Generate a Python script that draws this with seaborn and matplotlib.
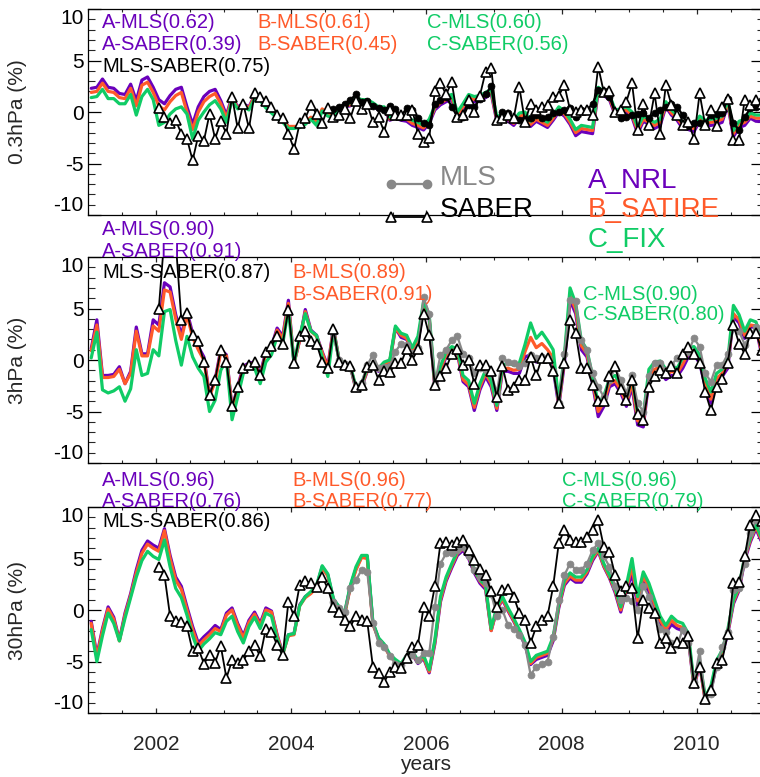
import numpy as np
import pandas as pd
import matplotlib
matplotlib.use("Agg")
import matplotlib.pyplot as plt
import seaborn as sns

sns.set_theme(style="white")
plt.rcParams["font.family"] = ["Liberation Sans", "DejaVu Sans"]

# ---------------------------------------------------------------- data
# monthly anomalies (%), Jan 2001 .. Dec 2010 (mid-month time stamps)
months = np.arange(120)
t_model = 2001 + (months + 0.5) / 12
t_saber = t_model[12:]    # SABER from Jan 2002
t_mls = t_model[43:]      # MLS from Aug 2004

# ---- 0.3 hPa
nrl_03 = [2.3, 2.4, 3.2, 2.4, 2.3, 1.8, 1.7, 2.7, 1.1, 3.1,
          3.4, 2.4, 1.2, 0.8, 1.6, 2.2, 2.4, 0.5, -1.2, 0.5,
          1.5, 2.0, 2.2, 1.1, -0.3, 1.5, 0.5, 0.8, 0.5, 1.6,
          1.3, 0.6, 0.2, -0.3, -0.8, -1.4, -1.5, -1.5, -1.1, -0.6,
          -1.1, 0.2, -0.3, -0.5, 0.1, 0.5, 0.6, 1.2, 1.1, 1.0,
          0.6, 0.2, 0.3, -0.8, -0.6, -0.8, -0.9, -1.3, -1.5, -1.75,
          -1.1, 0.2, 0.7, 1.0, 1.2, -0.45, 0.3, 1.2, 1.0, 1.1,
          1.4, 1.8, -0.9, -0.8, -0.9, -1.3, -0.6, -0.5, -1.4, -0.9,
          -1.2, -1.5, -0.8, 0.0, -0.4, -1.2, -2.3, -1.9, -2.0, -2.1,
          2.0, 1.6, 1.2, -0.3, -0.2, 0.0, -0.5, -2.1, -0.9, -1.2,
          -1.6, -1.3, 0.5, -0.3, -0.8, -1.6, -1.7, -1.9, -0.9, -1.4,
          -1.3, -1.2, -1.0, 0.7, -2.4, -1.5, -1.3, -0.6, -0.9, -0.9]
satire_03 = [1.9, 2.0, 2.8, 2.0, 1.9, 1.4, 1.3, 2.3, 0.6, 2.6,
             2.9, 1.9, 0.6, 0.2, 1.0, 1.6, 1.9, 0.0, -1.7, 0.0,
             1.0, 1.5, 1.8, 0.8, -0.6, 1.4, 0.4, 0.7, 0.4, 1.5,
             1.2, 0.5, 0.1, -0.4, -0.8, -1.4, -1.4, -1.4, -1.0, -0.5,
             -1.0, 0.3, -0.2, -0.4, 0.2, 0.6, 0.7, 1.3, 1.2, 1.1,
             0.7, 0.3, 0.4, -0.7, -0.5, -0.7, -0.7, -1.1, -1.3, -1.55,
             -0.9, 0.4, 0.9, 1.2, 1.4, -0.25, 0.5, 1.4, 1.2, 1.3,
             1.6, 2.0, -0.7, -0.6, -0.7, -1.1, -0.4, -0.3, -1.2, -0.7,
             -1.0, -1.3, -0.6, 0.2, -0.2, -1.0, -2.0, -1.6, -1.7, -1.8,
             2.2, 1.8, 1.4, -0.1, 0.0, 0.2, -0.3, -1.8, -0.7, -1.0,
             -1.3, -1.0, 0.7, -0.1, -0.6, -1.3, -1.4, -1.6, -0.7, -1.1,
             -1.0, -0.9, -0.7, 0.9, -2.1, -1.2, -1.0, -0.4, -0.6, -0.6]
fix_03 = [1.4, 1.5, 2.2, 1.3, 1.3, 0.8, 0.8, 1.7, -0.3, 1.5,
          2.2, 1.2, -1.3, -1.0, -0.2, 0.3, 0.5, -0.2, -2.6, -0.8,
          0.0, 0.7, 1.1, 0.3, -1.0, 1.2, 0.3, 0.5, 0.2, 1.3,
          1.1, 0.4, -0.1, -0.6, -1.0, -1.6, -1.6, -1.5, -1.2, -0.7,
          -1.3, 0.1, -0.4, -0.5, 0.2, 0.7, 0.9, 1.4, 1.2, 1.2,
          0.9, 0.5, 0.5, -0.5, -0.3, -0.4, -0.4, -0.8, -1.0, -1.3,
          -0.7, 0.6, 1.2, 1.5, 1.7, 0.0, 0.8, 1.7, 1.5, 1.6,
          1.9, 2.2, -0.4, -0.3, -0.4, -0.8, -0.1, 0.0, -0.9, -0.4,
          -0.7, -1.0, -0.3, 0.5, 0.1, -0.7, -1.7, -1.3, -1.4, -1.5,
          2.4, 2.0, 1.7, 0.2, 0.3, 0.5, 0.0, -1.5, -0.4, -0.7,
          -1.0, -0.7, 1.0, 0.2, -0.3, -1.0, -1.1, -1.3, -0.4, -0.8,
          -0.7, -0.6, -0.4, 1.2, -1.8, -0.9, -0.7, -0.1, -0.3, -0.3]
saber_03 = [0.4, -0.5, -1.1, -0.8, -2.1, -2.6, -4.7, -2.3,
            -2.8, -0.2, -2.6, -0.9, -2.1, 1.5, -1.6, 0.8, -1.6, 1.8,
            1.5, 1.1, 0.5, -0.3, -0.6, -2.1, -3.6, -1.1, -0.6, 0.7,
            -0.2, -1.1, 0.4, -0.5, -0.3, 0.3, -0.6, 1.1, 0.3, 0.8,
            -1.0, -0.5, -1.9, 0.2, -0.3, -0.3, -0.3, 0.2, -2.1, -2.9,
            -2.5, 2.0, 2.8, 1.7, 2.9, -0.45, -0.3, 1.2, 0.0, 1.6,
            3.9, 4.3, -0.8, -0.6, -0.3, -0.6, 2.4, -0.95, 0.8, 0.2,
            0.5, 0.7, 1.5, 1.6, 2.6, 0.2, 0.0, 0.2, 0.2, -0.3,
            4.4, 1.9, 2.0, 0.0, 0.2, 1.0, 2.8, -1.75, 0.8, -1.3,
            1.8, -2.1, 2.6, 0.7, -0.3, -1.3, -0.95, -2.6, 1.8, -1.3,
            0.2, -1.4, 0.5, 1.3, -2.7, -2.7, 1.2, 0.7, 1.2, 0.8]
mls_03 = [0.3, 0.5, 0.8, 1.2, 1.7, 1.0, 1.1,
          0.6, 0.4, 0.2, 0.6, 0.3, -0.45, 0.4, 0.2, -0.6, -1.1,
          -1.3, 0.8, 1.2, 1.5, 0.5, -0.45, -0.45, 0.7, 0.5, 1.3,
          1.7, 2.5, -0.9, 0.0, -0.1, -0.6, -0.8, -0.7, -0.6, -0.3,
          -0.6, -0.45, -0.1, 0.0, 0.2, 0.36, -0.45, 0.2, 0.2, 0.8,
          2.1, 2.0, 1.5, -0.1, -0.6, -0.5, -0.3, -0.2, -0.1, -0.6,
          -0.1, 0.2, 0.5, 0.8, 0.5, -0.3, -1.4, -1.1, -1.1, -1.1,
          -0.3, -0.2, -0.1, 1.3, -1.1, -1.75, -0.5, 0.36, 0.5, 1.2]

# ---- 3 hPa
nrl_3 = [1.1, 3.9, -1.5, -1.5, -1.4, -0.65, -2.3, -1.1, 3.2, 0.6,
         0.6, 3.9, 3.4, 7.5, 7.1, 4.4, 2.4, 4.7, 2.6, 1.3,
         0.3, -3.4, -1.9, 1.0, 0.5, -4.7, -2.6, -0.6, -0.3, -0.2,
         -1.3, 0.8, 1.3, 3.1, 2.3, 5.8, -0.3, 1.9, 4.9, 2.9,
         2.4, 0.8, -0.6, 3.1, 0.0, -0.3, -0.6, -2.9, -2.6, -1.1,
         -0.5, -1.1, -0.5, -0.2, 3.1, 2.2, 2.0, 0.8, 1.6, 5.3,
         3.9, -2.8, -1.1, 0.3, 0.8, 0.6, -2.1, -2.6, -4.9, -2.9,
         -1.6, -2.6, -4.9, -1.1, -1.1, -1.3, -1.3, 0.3, 0.5, -0.2,
         0.3, 0.2, -0.8, -4.5, -0.3, 5.8, 4.5, 1.0, 0.3, -2.3,
         -5.5, -4.5, -2.6, -2.3, -3.2, -4.5, -2.6, -6.3, -6.5, -1.9,
         -1.3, -1.1, -1.9, -1.5, -1.6, -0.8, 0.3, 0.5, -0.3, -2.6,
         -4.2, -2.1, -1.6, -0.8, 4.2, 3.6, 2.1, 3.2, 3.2, 0.5]
satire_3 = [0.9, 3.4, -1.7, -1.7, -1.6, -0.9, -2.3, -1.3, 2.8, 0.4,
            0.4, 3.3, 2.8, 6.8, 6.6, 4.0, 2.0, 4.4, 2.2, 1.0,
            0.0, -3.5, -2.1, 0.8, 0.4, -4.8, -2.8, -0.8, -0.4, -0.3,
            -1.5, 0.6, 1.1, 2.9, 2.1, 5.5, -0.3, 1.9, 4.7, 2.8,
            2.3, 0.7, -0.8, 3.0, 0.0, -0.3, -0.6, -2.8, -2.5, -1.0,
            -0.4, -1.0, -0.4, -0.1, 3.1, 2.4, 2.1, 0.9, 1.8, 5.4,
            4.1, -2.6, -0.9, 0.5, 1.0, 0.8, -1.9, -2.4, -4.6, -2.6,
            -1.3, -2.3, -4.7, -0.8, -0.8, -1.0, -0.9, 0.8, 2.2, 1.2,
            1.6, 1.0, 0.2, -4.3, 0.1, 6.2, 4.9, 1.4, 0.6, -2.0,
            -5.0, -4.1, -2.3, -2.0, -2.9, -4.2, -2.2, -5.9, -6.1, -1.5,
            -0.9, -0.7, -1.5, -1.1, -1.3, -0.4, 0.7, 0.9, 0.1, -2.3,
            -3.8, -1.8, -1.3, -0.5, 4.5, 3.9, 2.4, 3.4, 3.3, 0.8]
fix_3 = [0.2, 2.7, -2.9, -3.2, -3.0, -2.6, -4.0, -2.8, 1.0, -1.5,
         -1.3, 1.0, 0.4, 4.7, 4.9, 1.9, -0.5, 2.3, 0.3, -0.8,
         -1.6, -5.0, -3.9, -1.0, 0.0, -5.8, -3.6, -1.3, -0.8, -0.8,
         -2.3, -0.2, 0.5, 2.3, 1.6, 4.9, -0.3, 2.3, 4.5, 2.8,
         2.4, 0.3, -1.6, 2.8, 0.0, -0.3, -0.6, -2.6, -2.3, -0.8,
         -0.3, -0.8, -0.2, 0.0, 3.3, 2.6, 2.4, 1.2, 2.3, 5.7,
         4.4, -2.3, -0.6, 0.8, 1.3, 1.1, -1.5, -2.0, -4.2, -2.3,
         -1.0, -2.0, -4.4, -0.5, -0.3, -0.5, -0.3, 1.5, 3.6, 2.1,
         2.7, 1.9, 1.0, -4.0, 0.5, 7.0, 5.5, 1.9, 1.0, -1.6,
         -4.2, -3.5, -1.8, -1.5, -2.4, -3.7, -1.6, -5.2, -5.4, -0.9,
         -0.2, -0.1, -0.9, -0.6, -0.8, 0.2, 1.2, 1.3, 0.5, -1.8,
         -3.1, -1.3, -0.9, 0.0, 5.3, 4.4, 2.8, 3.9, 3.7, 2.0]
saber_3 = [5.0, 12.0, 13.0, 11.5, 3.9, 4.6, 2.4, 1.8,
           -0.2, -3.4, -1.9, 1.0, -0.2, -4.5, -2.6, -0.8, -0.5, -0.2,
           -1.5, 0.8, 1.4, 2.3, 1.6, 4.9, -0.3, 2.3, 2.8, 1.8,
           1.6, -0.2, -0.8, 3.0, -0.2, -0.5, -0.6, -2.6, -2.4, -0.65,
           -0.5, -1.9, -1.1, -1.2, -0.3, -0.3, 1.1, 0.0, 1.1, 4.5,
           2.4, -2.4, -1.6, -0.8, 0.6, 1.1, -0.5, 0.0, -2.3, -0.5,
           -0.5, -1.1, -3.6, -0.6, -2.9, -2.6, -1.9, -1.9, 0.3, -1.5,
           0.2, 0.2, -1.1, -4.2, -0.3, 3.9, 2.6, -0.8, -0.8, -2.4,
           -4.0, -4.0, -1.6, -0.6, -2.8, -3.9, -1.9, -5.2, -5.8, -2.6,
           -1.6, -1.0, -1.3, -0.6, -1.3, 0.6, 1.3, 0.6, -0.3, -3.1,
           -4.9, -2.6, -1.8, -0.3, 3.4, 1.6, 0.6, 2.6, 2.6, 1.0]
mls_3 = [2.6, 0.0, -0.4, -0.8, -2.7, -2.2, -0.5,
         0.5, -0.8, -0.7, -0.6, 0.8, 1.6, 1.5, 0.7, 1.2, 6.1,
         4.5, -2.3, 0.5, 1.0, 1.9, 2.3, 0.6, 0.2, -1.3, -0.8,
         -1.0, -1.3, -3.2, 0.2, -0.2, -0.3, -0.6, -0.3, 0.5, 0.2,
         0.3, 0.2, -1.1, -4.2, 0.6, 5.8, 5.7, 1.9, 1.0, -1.3,
         -2.6, -3.6, -1.9, -0.8, -1.9, -3.2, -1.5, -4.2, -5.0, -1.6,
         -0.3, -0.3, -1.0, -0.5, 0.2, 0.6, 0.8, 2.1, 1.3, -1.3,
         -2.1, -0.5, -0.5, 0.6, 3.1, 2.8, 1.5, 2.4, 3.2, 2.3]

# ---- 30 hPa
nrl_30 = [-1.1, -4.4, -1.8, 0.3, -0.7, -2.9, -0.3, 1.6, 3.9, 5.8,
          6.7, 6.3, 6.0, 7.9, 5.3, 3.2, 2.3, 0.3, -1.6, -3.2,
          -2.6, -2.1, -1.5, -1.9, -0.3, 0.2, -1.3, -2.5, -1.0, -0.2,
          -1.3, 0.2, -0.1, -2.4, -4.2, -2.4, -2.3, 0.5, 1.3, 1.7,
          2.3, 4.2, 3.4, 1.0, 0.3, -0.3, 2.3, 4.0, 5.2, 5.2,
          -1.3, -2.75, -3.4, -4.4, -4.9, -5.5, -4.7, -4.3, -5.2, -4.7,
          -6.1, -3.3, 0.8, 2.8, 4.1, 5.3, 5.8, 5.0, 3.6, 2.6,
          2.0, -2.0, 0.0, 1.0, -0.1, -1.1, -2.2, -3.4, -5.3, -4.8,
          -4.6, -4.4, -3.0, 0.2, 2.4, 3.1, 2.7, 2.7, 3.5, 4.8,
          5.7, 4.2, 3.1, 1.7, -0.2, 1.9, 3.5, 0.4, 2.7, 1.8,
          0.3, -1.2, -2.2, -1.4, -1.8, -2.0, -2.8, -7.5, -5.3, -8.8,
          -7.8, -5.3, -4.3, -2.3, 0.6, 1.9, 4.8, 6.6, 7.9, 6.6]
satire_30 = [-1.3, -4.6, -2.0, 0.1, -0.9, -3.0, -0.5, 1.4, 3.6, 5.5,
             6.4, 6.0, 5.7, 7.7, 5.0, 2.9, 2.0, 0.0, -1.9, -3.5,
             -2.9, -2.4, -1.8, -2.1, -0.5, 0.0, -1.5, -2.7, -1.2, -0.4,
             -1.5, 0.0, -0.2, -2.5, -4.3, -2.5, -2.4, 0.4, 1.2, 1.6,
             2.2, 4.1, 3.3, 0.9, 0.2, -0.4, 2.2, 3.9, 5.1, 5.0,
             -1.4, -2.8, -3.5, -4.5, -5.0, -5.4, -4.6, -4.2, -5.1, -4.6,
             -6.0, -3.1, 1.0, 3.0, 4.3, 5.5, 6.0, 5.2, 3.8, 2.8,
             2.2, -2.0, 0.1, 1.1, 0.0, -1.0, -2.1, -3.3, -5.2, -4.6,
             -4.4, -4.2, -2.8, 0.4, 2.6, 3.3, 2.9, 2.9, 3.7, 5.0,
             5.8, 4.3, 3.2, 1.9, 0.0, 2.1, 4.2, 0.9, 3.3, 2.2,
             0.6, -1.0, -1.9, -1.0, -1.5, -1.7, -2.6, -7.4, -5.1, -8.8,
             -7.7, -5.1, -4.1, -2.1, 0.8, 2.1, 5.0, 6.8, 8.1, 6.8]
fix_30 = [-1.9, -5.0, -2.5, -0.3, -1.3, -3.0, -0.8, 1.2, 3.2, 4.8,
          5.7, 5.2, 4.9, 6.8, 4.2, 2.1, 1.2, -0.5, -2.5, -4.0,
          -3.3, -2.8, -2.2, -2.4, -1.1, -0.6, -2.1, -3.2, -1.6, -0.7,
          -1.8, -0.3, -0.6, -2.8, -4.3, -2.4, -2.3, 0.4, 1.3, 1.8,
          2.4, 4.3, 3.5, 1.1, 0.3, -0.2, 2.4, 4.2, 5.3, 5.3,
          -1.2, -2.7, -3.3, -4.3, -4.8, -5.2, -4.4, -4.0, -4.9, -4.4,
          -5.8, -2.9, 1.3, 3.2, 4.5, 5.7, 6.1, 5.3, 3.9, 2.9,
          2.4, -1.8, 0.3, 1.3, 0.2, -0.8, -1.9, -3.1, -5.0, -4.4,
          -4.2, -4.0, -2.6, 0.6, 2.9, 3.6, 3.2, 3.2, 3.9, 5.2,
          6.0, 4.5, 3.4, 2.1, 0.3, 2.4, 5.0, 1.3, 3.7, 2.6,
          1.0, -0.6, -1.5, -0.6, -1.1, -1.3, -2.3, -7.1, -4.9, -8.4,
          -7.4, -4.9, -3.9, -1.9, 1.0, 2.3, 5.2, 7.0, 8.3, 7.0]
saber_30 = [4.2, 3.4, -0.6, -1.1, -1.2, -1.6, -4.0, -3.7,
            -5.2, -4.4, -5.1, -3.5, -6.6, -4.9, -5.1, -4.9, -4.0, -3.4,
            -4.5, -1.8, -2.1, -3.4, -4.4, 0.8, -0.6, 2.4, 2.8, 2.6,
            2.2, 3.2, 2.1, 0.3, -0.2, -1.0, -1.6, -0.6, -1.0, -1.1,
            -5.5, -6.1, -7.0, -6.0, -5.5, -5.6, -4.7, -3.6, -3.4, 0.3,
            -0.6, 2.3, 6.5, 6.6, 6.3, 6.6, 6.8, 5.8, 4.9, 4.0,
            3.4, 1.8, 0.3, 1.9, 2.0, 1.3, -0.3, -1.0, -3.2, -1.6,
            -1.0, -0.6, 2.3, 6.5, 7.8, 6.8, 6.6, 6.6, 7.1, 7.8,
            8.7, 6.1, 5.6, 3.4, 1.8, 2.3, 2.1, -2.75, 1.0, 0.2,
            -0.3, -3.2, -2.75, -3.7, -3.1, -3.2, -2.5, -7.1, -5.5, -8.6,
            -7.8, -5.1, -4.9, -2.3, 2.6, 2.75, 5.2, 8.3, 9.2, 8.6]
mls_30 = [0.8, 0.2, -0.2, 2.1, 2.9, 3.9, 3.7,
          -1.3, -3.2, -3.6, -4.5, -5.2, -5.3, -4.6, -4.4, -4.9, -4.2,
          -4.2, 0.3, 4.5, 5.5, 5.5, 5.8, 6.1, 5.2, 3.9, 3.2,
          2.6, 1.6, -0.6, 0.0, -1.5, -1.8, -2.4, -3.4, -6.3, -5.5,
          -5.2, -5.0, -2.6, 1.0, 3.4, 4.5, 3.9, 3.9, 4.5, 5.8,
          6.5, 5.2, 4.2, 2.3, 1.0, 1.2, 0.9, 0.0, 2.3, 1.3,
          -0.3, -1.8, -2.1, -3.2, -3.4, -1.9, -3.2, -7.0, -4.0, -8.7,
          -8.2, -5.5, -3.6, -2.1, 1.9, 2.1, 4.5, 7.5, 8.7, 8.0]

levels = ["0.3hPa (%)", "3hPa (%)", "30hPa (%)"]
model_names = ["A_NRL", "B_SATIRE", "C_FIX"]
model_data = [[nrl_03, satire_03, fix_03],
              [nrl_3, satire_3, fix_3],
              [nrl_30, satire_30, fix_30]]
saber_data = [saber_03, saber_3, saber_30]
mls_data = [mls_03, mls_3, mls_30]

corr_labels = [
    [("A-MLS(0.62)", "A-SABER(0.39)"), ("B-MLS(0.61)", "B-SABER(0.45)"),
     ("C-MLS(0.60)", "C-SABER(0.56)"), "MLS-SABER(0.75)"],
    [("A-MLS(0.90)", "A-SABER(0.91)"), ("B-MLS(0.89)", "B-SABER(0.91)"),
     ("C-MLS(0.90)", "C-SABER(0.80)"), "MLS-SABER(0.87)"],
    [("A-MLS(0.96)", "A-SABER(0.76)"), ("B-MLS(0.96)", "B-SABER(0.77)"),
     ("C-MLS(0.96)", "C-SABER(0.79)"), "MLS-SABER(0.86)"],
]

# ---------------------------------------------------------------- style
PURPLE = "#6a00bb"
ORANGE = "#ff5a2a"
GREEN = "#10cc66"
GRAY = "#888888"
model_colors = [PURPLE, ORANGE, GREEN]

W, H = 760, 777
fig = plt.figure(figsize=(W / 100, H / 100), dpi=100)


def fx(px):
    return px / W


def fy(py):
    return 1 - py / H


ax_left, ax_right = 88.4, 764.4
panel_px = [(9, 215), (257, 463), (507, 713)]
axes = []
for top, bot in panel_px:
    axes.append(fig.add_axes([fx(ax_left), fy(bot), fx(ax_right - ax_left),
                              (bot - top) / H]))

for p, ax in enumerate(axes):
    for name, vals, col in zip(model_names, model_data[p], model_colors):
        df = pd.DataFrame({"year": t_model, "value": vals})
        sns.lineplot(data=df, x="year", y="value", ax=ax, color=col, lw=2.3,
                     legend=False, zorder=2)
    mls_col = "black" if p == 0 else GRAY
    df = pd.DataFrame({"year": t_mls, "value": mls_data[p]})
    sns.lineplot(data=df, x="year", y="value", ax=ax, color=mls_col, lw=1.6,
                 marker="o", markersize=5, markerfacecolor=mls_col,
                 markeredgecolor=mls_col, markeredgewidth=0.5,
                 legend=False, zorder=3)
    df = pd.DataFrame({"year": t_saber, "value": saber_data[p]})
    sns.lineplot(data=df, x="year", y="value", ax=ax, color="black", lw=1.3,
                 marker="^", markersize=7, markerfacecolor="white",
                 markeredgecolor="black", markeredgewidth=1.2,
                 legend=False, zorder=4)

    ax.set_xlim(2001, 2011)
    ax.set_ylim(-10, 10)
    ax.set_xlabel("")
    ax.set_ylabel("")
    ax.set_xticks([2002, 2004, 2006, 2008, 2010])
    ax.set_xticks(np.arange(2001, 2011.01, 0.5), minor=True)
    ax.set_yticks([-10, -5, 0, 5, 10])
    ax.set_yticks(np.arange(-10, 10.01, 1), minor=True)
    ax.set_yticklabels(["-10", "-5", "0", "5", "10"])
    ax.tick_params(axis="y", which="major", direction="in", length=9.7,
                   width=0.9, left=True, right=True, labelsize=15, pad=3.5,
                   colors="black")
    ax.tick_params(axis="y", which="minor", direction="in", length=4.9,
                   width=0.8, left=True, right=True)
    ax.tick_params(axis="x", which="major", direction="in", length=3.6,
                   width=0.9, bottom=True, top=True, labelsize=15, pad=16)
    ax.tick_params(axis="x", which="minor", direction="in", length=2.2,
                   width=0.8, bottom=True, top=True)
    if p < 2:
        ax.tick_params(axis="x", labelbottom=False)
    else:
        ax.set_xticklabels(["2002", "2004", "2006", "2008", "2010"])
    yt = ax.yaxis.get_major_ticks()
    yt[0].label1.set_va("bottom")
    yt[-1].label1.set_va("top")
    for s in ax.spines.values():
        s.set_visible(True)
        s.set_color("black")
        s.set_linewidth(0.9)
    ax.grid(False)
    ax.set_facecolor("white")

    top, bot = panel_px[p]
    fig.text(fx(18), fy((top + bot) / 2), levels[p], rotation=90,
             ha="center", va="center", fontsize=15)

# correlation annotations (baseline positions in pixels)
ann_rows = [(28.3, 50.0, 71.7), (235.0, 257.3, 278.3), (486.0, 506.7, 526.7)]
ann_cols = [(102, 257, 427), (102, 292, 583), (102, 292, 562)]
for p in range(3):
    r1, r2, r3 = ann_rows[p]
    cx = ann_cols[p]
    a, b, c, ms = corr_labels[p]
    fig.text(fx(cx[0]), fy(r1), a[0], color=PURPLE, fontsize=14.5, va="baseline")
    fig.text(fx(cx[0]), fy(r2), a[1], color=PURPLE, fontsize=14.5, va="baseline")
    fig.text(fx(cx[0]), fy(r3), ms, color="black", fontsize=14.5, va="baseline")
    if p == 1:
        rb = (r3, r3 + 21.7)
        rc = (r3 + 21.7, r3 + 42)
    else:
        rb = (r1, r2)
        rc = (r1, r2)
    fig.text(fx(cx[1]), fy(rb[0]), b[0], color=ORANGE, fontsize=14.5, va="baseline")
    fig.text(fx(cx[1]), fy(rb[1]), b[1], color=ORANGE, fontsize=14.5, va="baseline")
    fig.text(fx(cx[2]), fy(rc[0]), c[0], color=GREEN, fontsize=14.5, va="baseline")
    fig.text(fx(cx[2]), fy(rc[1]), c[1], color=GREEN, fontsize=14.5, va="baseline")

# key for the observations and the model runs
key_ax = fig.add_axes([0, 0, 1, 1], facecolor="none")
key_ax.set_xlim(0, W)
key_ax.set_ylim(H, 0)
key_ax.axis("off")
key_ax.plot([391, 427], [184, 184], color=GRAY, lw=1.6, marker="o",
            markersize=6, markerfacecolor=GRAY, markeredgecolor=GRAY,
            clip_on=False)
key_ax.plot([391, 427], [217, 217], color="black", lw=1.3, marker="^",
            markersize=7, markerfacecolor="white", markeredgecolor="black",
            markeredgewidth=1.2, clip_on=False)
key_ax.text(440, 185, "MLS", color=GRAY, fontsize=20, va="baseline")
key_ax.text(440, 217, "SABER", color="black", fontsize=20, va="baseline")
key_ax.text(588, 188, "A_NRL", color=PURPLE, fontsize=20, va="baseline")
key_ax.text(588, 217, "B_SATIRE", color=ORANGE, fontsize=20, va="baseline")
key_ax.text(588, 247, "C_FIX", color=GREEN, fontsize=20, va="baseline")

fig.text(fx(426), fy(765), "years", ha="center", va="center", fontsize=15)

fig.savefig("out.png", dpi=100)
